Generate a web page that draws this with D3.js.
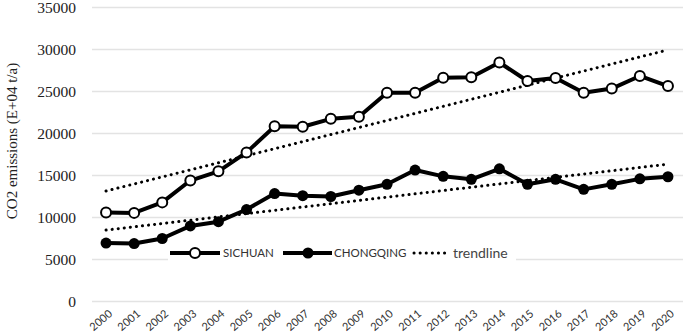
<!DOCTYPE html>
<html>
<head>
<meta charset="utf-8">
<style>
  body { margin: 0; background: #fff; }
  .grid line { stroke: #e3e3e3; stroke-width: 1.3px; }
  .ytick { font-family: "Liberation Serif", "DejaVu Serif", serif; font-size: 15.5px; fill: #222; }
  .ytitle { font-family: "Liberation Serif", "DejaVu Serif", serif; font-size: 15px; fill: #222; }
  .xtick { font-family: Lato, sans-serif; font-size: 11px; fill: #333; }
  .series { fill: none; stroke: #000; stroke-width: 4px; stroke-linejoin: round; }
  .trend { fill: none; stroke: #000; stroke-width: 3px; stroke-dasharray: 0.1, 6; stroke-linecap: round; }
  .leg { font-family: Lato, sans-serif; font-size: 11.5px; fill: #333; }
  .legbig { font-family: Lato, sans-serif; font-size: 14px; fill: #444; }
</style>
</head>
<body>
<svg width="685" height="333"></svg>
<script src="https://cdn.jsdelivr.net/npm/d3@7"></script>
<script>

var years = ["2000","2001","2002","2003","2004","2005","2006","2007","2008","2009","2010",
             "2011","2012","2013","2014","2015","2016","2017","2018","2019","2020"]

var sichuan = [10600, 10550, 11800, 14400, 15500, 17750, 20850, 20800, 21750, 22000, 24850,
               24850, 26650, 26700, 28450, 26250, 26600, 24850, 25350, 26850, 25650]

var chongqing = [6950, 6900, 7500, 9000, 9500, 10950, 12850, 12600, 12500, 13250, 13950,
                 15650, 14900, 14550, 15800, 13950, 14550, 13350, 13950, 14600, 14850]

// trendline ends (first year, last year)
var sichuanTrend = [13150, 29950]
var chongqingTrend = [8500, 16350]

var yTicks = [0, 5000, 10000, 15000, 20000, 25000, 30000, 35000]

var svg = d3.select("svg")

var x = d3.scaleBand().domain(years).range([92, 682])
var y = d3.scaleLinear().domain([0, 35000]).range([301.5, 7.5])
var cx = function(d) { return x(d) + x.bandwidth()/2 }

// gridlines
svg.append("g").attr("class","grid")
  .selectAll("line")
  .data(yTicks)
  .enter().append("line")
  .attr("x1", 92).attr("x2", 683)
  .attr("y1", function(d) { return y(d) }).attr("y2", function(d) { return y(d) })

// y labels
svg.append("g")
  .selectAll("text")
  .data(yTicks)
  .enter().append("text")
  .attr("class","ytick")
  .attr("x", 76)
  .attr("y", function(d) { return y(d) })
  .attr("dy", "0.35em")
  .attr("text-anchor","end")
  .text(function(d) { return d })

svg.append("text")
  .attr("class","ytitle")
  .attr("transform","translate(17,141) rotate(-90)")
  .attr("text-anchor","middle")
  .text("CO2 emissions (E+04 t/a)")

// x labels
svg.append("g")
  .selectAll("text")
  .data(years)
  .enter().append("text")
  .attr("class","xtick")
  .attr("text-anchor","end")
  .attr("transform", function(d) { return "translate(" + (cx(d)+7) + ",315) rotate(-40)" })
  .text(function(d) { return d })

// trendlines
var trendLine = d3.line()
  .x(function(d, i) { return cx(years[i * (years.length-1)]) })
  .y(function(d) { return y(d) })

svg.append("path").attr("class","trend").attr("d", trendLine(sichuanTrend))
svg.append("path").attr("class","trend").attr("d", trendLine(chongqingTrend))

// series
var line = d3.line()
  .x(function(d, i) { return cx(years[i]) })
  .y(function(d) { return y(d) })

svg.append("path").attr("class","series").attr("d", line(chongqing))
svg.append("path").attr("class","series").attr("d", line(sichuan))

svg.append("g")
  .selectAll("circle")
  .data(chongqing)
  .enter().append("circle")
  .attr("cx", function(d, i) { return cx(years[i]) })
  .attr("cy", function(d) { return y(d) })
  .attr("r", 5.5)
  .attr("fill","#000")

svg.append("g")
  .selectAll("circle")
  .data(sichuan)
  .enter().append("circle")
  .attr("cx", function(d, i) { return cx(years[i]) })
  .attr("cy", function(d) { return y(d) })
  .attr("r", 5)
  .attr("fill","#fff")
  .attr("stroke","#000")
  .attr("stroke-width", 2)

// legend
var legY = 253
var lg = svg.append("g")
lg.append("rect").attr("x",168).attr("y",243).attr("width",348).attr("height",20).attr("fill","#fff")

lg.append("line").attr("x1",170).attr("x2",220).attr("y1",legY).attr("y2",legY)
  .attr("stroke","#000").attr("stroke-width",4)
lg.append("circle").attr("cx",195).attr("cy",legY).attr("r",5)
  .attr("fill","#fff").attr("stroke","#000").attr("stroke-width",2)
lg.append("text").attr("class","leg").attr("x",223).attr("y",legY).attr("dy","0.36em").text("SICHUAN")

lg.append("line").attr("x1",283).attr("x2",332).attr("y1",legY).attr("y2",legY)
  .attr("stroke","#000").attr("stroke-width",4)
lg.append("circle").attr("cx",308).attr("cy",legY).attr("r",5.5).attr("fill","#000")
lg.append("text").attr("class","leg").attr("x",334).attr("y",legY).attr("dy","0.36em").text("CHONGQING")

lg.append("line").attr("class","trend").attr("x1",414).attr("x2",446).attr("y1",legY).attr("y2",legY)
lg.append("text").attr("class","legbig").attr("x",453).attr("y",legY).attr("dy","0.33em").text("trendline")

</script>
</body>
</html>
